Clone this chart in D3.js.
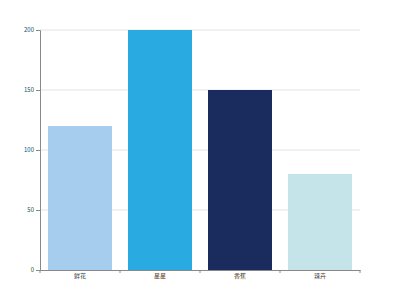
<!DOCTYPE html>
<html>
<head>
<meta charset="utf-8">
<script src="https://cdn.jsdelivr.net/npm/d3@7"></script>
<style>
  body { margin: 0; background: #fff; }
  text { font-family: "Noto Sans CJK SC", "Noto Sans", sans-serif; }
</style>
</head>
<body>
<div id="chart"></div>
<script>
// chart data
const categories = ["鲜花", "星星", "香蕉", "辣卉"];
const values = [120, 200, 150, 80];
const colors = ["#a7cdee", "#29abe2", "#1a2c5d", "#c4e4ea"];
const yTicks = [0, 50, 100, 150, 200];

const width = 400, height = 300;
const margin = { top: 30, right: 40, bottom: 30, left: 40 };

const svg = d3.select("#chart").append("svg").attr("width", width).attr("height", height);

const x = d3.scaleBand().domain(categories)
    .range([margin.left, width - margin.right]).paddingInner(0.2).paddingOuter(0.1);
const y = d3.scaleLinear().domain([0, 200]).range([height - margin.bottom, margin.top]);

// gridlines
svg.append("g").selectAll("line").data(yTicks.filter(d => d > 0)).join("line")
    .attr("x1", margin.left).attr("x2", width - margin.right)
    .attr("y1", d => y(d)).attr("y2", d => y(d))
    .attr("stroke", "#e4e4e4").attr("stroke-width", 1);

// bars
svg.append("g").selectAll("rect").data(categories).join("rect")
    .attr("x", d => x(d)).attr("width", x.bandwidth())
    .attr("y", (d, i) => y(values[i]))
    .attr("height", (d, i) => y(0) - y(values[i]))
    .attr("fill", (d, i) => colors[i]);

// y axis
const yAxis = svg.append("g").attr("transform", `translate(${margin.left},0)`)
    .call(d3.axisLeft(y).tickValues(yTicks).tickSize(4).tickPadding(2));
yAxis.select(".domain").attr("stroke", "#888");
yAxis.selectAll(".tick line").attr("stroke", "#888");
yAxis.selectAll("text").style("fill", "#444").style("font-size", "6px");

// x axis
const xAxis = svg.append("g").attr("transform", `translate(0,${height - margin.bottom})`)
    .call(d3.axisBottom(x).tickSize(0).tickPadding(4));
xAxis.select(".domain").attr("stroke", "#888");
xAxis.selectAll("text").style("fill", "#444").style("font-size", "6px");

// tick marks at band boundaries
const bounds = d3.range(categories.length + 1).map(i => margin.left + i * x.step());
xAxis.selectAll(".bound").data(bounds).join("line").attr("class", "bound")
    .attr("x1", d => d).attr("x2", d => d).attr("y1", 0).attr("y2", 3)
    .attr("stroke", "#888");
</script>
</body>
</html>
